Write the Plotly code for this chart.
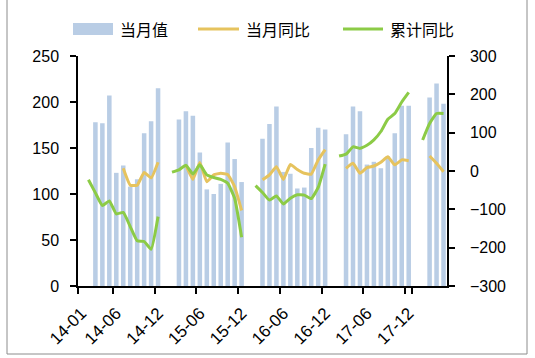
import plotly.graph_objects as go

# ---- data ----
months = [f"{y:02d}-{m:02d}" for y in range(14, 19) for m in range(1, 13)][:53]

N = None
monthly_value = (
    [N, N, 178, 177, 207, 123, 131, 108, 116, 166, 179, 215] +
    [N, N, 181, 190, 185, 145, 105, 100, 111, 156, 138, 113] +
    [N, N, 160, 176, 195, 124, 122, 106, 107, 150, 172, 170] +
    [N, N, 165, 195, 190, 132, 135, 128, 141, 166, 196, 196] +
    [N, N, 205, 220, 198]
)
monthly_yoy = (
    [N, N, N, N, N, N, 7, -37, -37, -4, -18, 23] +
    [N, N, N, 15, -22, 22, -28, -10, -6, -9, -41, -103] +
    [N, N, -23, -10, 11, -22, 17, 4, -6, -8, 29, 56] +
    [N, N, 7, 20, -6, 9, 13, 23, 37, 16, 29, 27] +
    [N, N, 39, 20, -2]
)
cum_yoy = (
    [N, -23, -57, -90, -78, -112, -108, -145, -182, -184, -204, -119] +
    [N, -3, 3, 15, -8, 16, -10, -17, -22, -32, -71, -173] +
    [N, -38, -56, -76, -65, -86, -71, -62, -63, -72, -43, 18] +
    [N, 39, 44, 63, 59, 67, 81, 103, 135, 150, 180, 205] +
    [N, 81, 124, 150, 150]
)
tick_labels = ["14-01", "14-06", "14-12", "15-06", "15-12", "16-06", "16-12", "17-06", "17-12"]
series_names = ["当月值", "当月同比", "累计同比"]

BAR_C = "#B9CDE5"
YEL_C = "#E6C35E"
GRN_C = "#8CCB46"

fig = go.Figure()
fig.add_trace(go.Bar(x=months, y=monthly_value, name=series_names[0],
                     marker=dict(color=BAR_C, line=dict(width=0)), showlegend=False))
fig.add_trace(go.Scatter(x=months, y=monthly_yoy, name=series_names[1], yaxis="y2",
                         mode="lines", line=dict(color=YEL_C, width=3, shape="spline", smoothing=0.4),
                         connectgaps=False, showlegend=False))
fig.add_trace(go.Scatter(x=months, y=cum_yoy, name=series_names[2], yaxis="y2",
                         mode="lines", line=dict(color=GRN_C, width=3, shape="spline", smoothing=0.4),
                         connectgaps=False, showlegend=False))

L, R, T, B = 78, 88, 56, 72
W, H = 535, 358
pw, ph = W - L - R, H - T - B

def px(xp):
    return (xp - L) / pw

def py(yp):
    return (H - B - yp) / ph

num_font = dict(family="Liberation Sans, Arial, sans-serif", size=16, color="black")
cjk_font = dict(family="Noto Sans CJK SC, sans-serif", size=16, color="black")

fig.update_layout(
    width=W, height=H,
    margin=dict(l=L, r=R, t=T, b=B, autoexpand=False),
    paper_bgcolor="white", plot_bgcolor="white",
    bargap=0.35,
    xaxis=dict(type="category", categoryorder="array", categoryarray=months,
               range=[-0.5, len(months) - 0.5], automargin=False,
               tickmode="array", tickvals=tick_labels, ticktext=tick_labels,
               tickson="boundaries", ticks="outside", ticklen=6, tickcolor="black", tickwidth=1.5,
               tickangle=-45, tickfont=dict(num_font, size=17), ticklabelstandoff=9,
               showline=True, linecolor="black", linewidth=1.5, showgrid=False, zeroline=False),
    yaxis=dict(range=[0, 250], dtick=50, ticks="outside", ticklen=6, tickwidth=1.5, tickcolor="black",
               showline=True, linecolor="black", linewidth=1.5, showgrid=False, zeroline=False,
               tickfont=num_font, ticklabelstandoff=8, automargin=False),
    yaxis2=dict(range=[-300, 300], dtick=100, overlaying="y", side="right",
                ticks="outside", ticklen=6, tickwidth=1.5, tickcolor="black",
                showline=True, linecolor="black", linewidth=1.5, showgrid=False, zeroline=False,
                tickfont=num_font, ticklabelstandoff=12, automargin=False),
)

# custom legend
shapes = [
    dict(type="rect", xref="paper", yref="paper", x0=px(73), x1=px(113), y0=py(35), y1=py(23),
         fillcolor=BAR_C, line=dict(width=0)),
    dict(type="line", xref="paper", yref="paper", x0=px(198), x1=px(239), y0=py(29), y1=py(29),
         line=dict(color=YEL_C, width=3)),
    dict(type="line", xref="paper", yref="paper", x0=px(343), x1=px(383), y0=py(29), y1=py(29),
         line=dict(color=GRN_C, width=3)),
    dict(type="rect", xref="paper", yref="paper", x0=px(7), x1=px(527), y0=py(354), y1=py(-3),
         line=dict(color="#8c8c8c", width=1), fillcolor="rgba(0,0,0,0)", layer="below"),
]
annots = [
    dict(text=series_names[0], x=px(118), y=py(29)),
    dict(text=series_names[1], x=px(244), y=py(29)),
    dict(text=series_names[2], x=px(388), y=py(29)),
]
fig.update_layout(shapes=shapes,
                  annotations=[dict(a, xref="paper", yref="paper", xanchor="left", yanchor="middle",
                                    showarrow=False, font=cjk_font) for a in annots])

fig.write_html("out.html", config={"displayModeBar": False},
               post_script="document.body.style.margin='0';document.body.style.padding='0';")
